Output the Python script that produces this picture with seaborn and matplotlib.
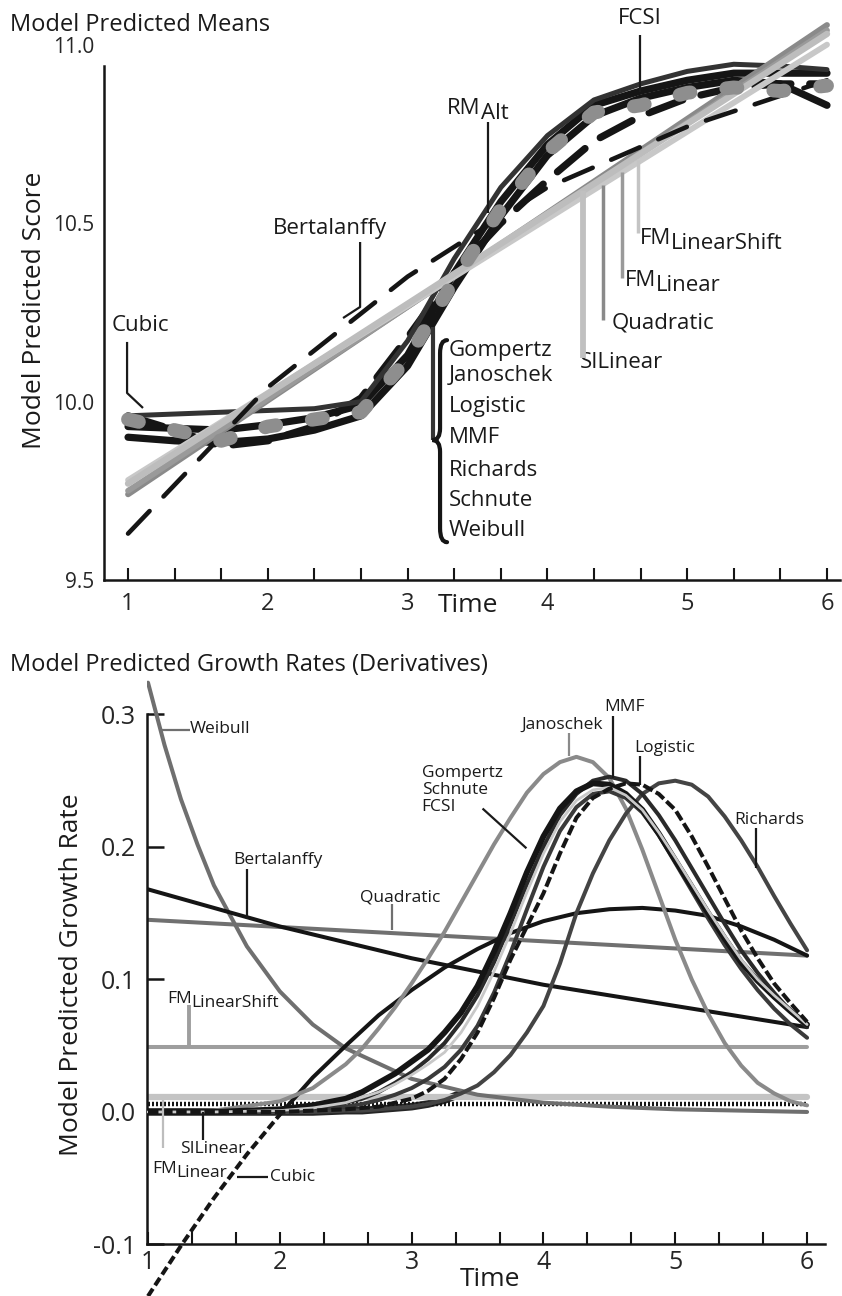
import matplotlib
matplotlib.use("Agg")
import matplotlib.pyplot as plt
import seaborn as sns
from matplotlib.path import Path
from matplotlib.patches import PathPatch

# ---------------- data: top panel (predicted means) ----------------
t_means = [1.0, 1.333, 1.667, 2.0, 2.333, 2.667, 3.0, 3.333, 3.667, 4.0, 4.333, 4.667, 5.0, 5.333, 5.667, 6.0]
rm_alt = [9.96, 9.965, 9.97, 9.975, 9.98, 10.00, 10.17, 10.40, 10.60, 10.745, 10.845, 10.89, 10.925, 10.945, 10.94, 10.93]
nonlin_a = [9.93, 9.925, 9.92, 9.935, 9.955, 9.99, 10.13, 10.36, 10.56, 10.72, 10.83, 10.87, 10.90, 10.92, 10.92, 10.92]
nonlin_b = [9.90, 9.89, 9.885, 9.895, 9.92, 9.96, 10.10, 10.32, 10.52, 10.69, 10.80, 10.85, 10.88, 10.90, 10.89, 10.83]
nonlin_dash = [9.96, 9.92, 9.875, 9.89, 9.93, 10.01, 10.18, 10.36, 10.50, 10.62, 10.73, 10.80, 10.85, 10.88, 10.89, 10.89]
fcsi_mean = [9.95, 9.92, 9.89, 9.93, 9.95, 9.97, 10.12, 10.34, 10.54, 10.70, 10.81, 10.83, 10.865, 10.88, 10.87, 10.885]

t_int = [1, 2, 3, 4, 5, 6]
bertalanffy_mean = [9.63, 10.04, 10.35, 10.60, 10.77, 10.90]

t_ends = [1, 6]
quadratic_mean = [9.74, 11.055]
fmlinear_mean = [9.75, 11.04]
silinear_mean = [9.77, 11.03]
fmshift_mean = [9.78, 11.00]

# ---------------- data: bottom panel (growth rates) ----------------
t_rate = [1.0, 1.25, 1.5, 1.75, 2.0, 2.25, 2.5, 2.75, 3.0, 3.25, 3.5, 3.75,
          4.0, 4.25, 4.5, 4.75, 5.0, 5.25, 5.5, 5.75, 6.0]
bertalanffy = [0.168, 0.161, 0.154, 0.147, 0.140, 0.134, 0.128, 0.122, 0.116, 0.111, 0.106, 0.101,
               0.096, 0.092, 0.088, 0.084, 0.080, 0.076, 0.072, 0.068, 0.064]
cubic = [-0.139, -0.101, -0.065, -0.032, -0.002, 0.026, 0.050, 0.073, 0.092, 0.109, 0.123, 0.135,
         0.144, 0.150, 0.153, 0.154, 0.152, 0.148, 0.140, 0.130, 0.118]

t_weibull = [1.0, 1.125, 1.25, 1.375, 1.5, 1.75, 2.0, 2.25, 2.5, 3.0, 3.5, 4.0, 4.5, 5.0, 5.5, 6.0]
weibull = [0.324, 0.277, 0.236, 0.202, 0.171, 0.125, 0.091, 0.066, 0.048, 0.025, 0.013, 0.007,
           0.004, 0.002, 0.001, 0.000]

# peaked curves: coarse at the start, 1/8 steps from 2.5 on
t_peak = [1.0, 1.5, 2.0, 2.25, 2.5, 2.625, 2.75, 2.875, 3.0, 3.125, 3.25, 3.375, 3.5, 3.625,
          3.75, 3.875, 4.0, 4.125, 4.25, 4.375, 4.5, 4.625, 4.75, 4.875, 5.0, 5.125, 5.25,
          5.375, 5.5, 5.625, 5.75, 5.875, 6.0]
janoschek = [0.0, 0.001, 0.008, 0.018, 0.036, 0.048, 0.063, 0.079, 0.097, 0.116, 0.136, 0.158,
             0.180, 0.202, 0.222, 0.241, 0.255, 0.264, 0.268, 0.264, 0.252, 0.229, 0.198, 0.164,
             0.130, 0.100, 0.074, 0.052, 0.035, 0.022, 0.014, 0.008, 0.005]
gompertz = [0.0, 0.0, 0.002, 0.005, 0.010, 0.015, 0.022, 0.029, 0.038, 0.047, 0.060, 0.075,
            0.095, 0.121, 0.150, 0.181, 0.208, 0.229, 0.242, 0.248, 0.247, 0.240, 0.228, 0.210,
            0.190, 0.170, 0.150, 0.131, 0.113, 0.099, 0.087, 0.076, 0.066]
fcsi = [0.0, 0.0, 0.001, 0.003, 0.007, 0.011, 0.015, 0.021, 0.028, 0.036, 0.045, 0.060,
        0.080, 0.106, 0.135, 0.166, 0.195, 0.219, 0.235, 0.243, 0.245, 0.239, 0.228, 0.211,
        0.192, 0.172, 0.152, 0.133, 0.115, 0.100, 0.088, 0.077, 0.066]
schnute = [0.0, 0.0, 0.001, 0.002, 0.004, 0.006, 0.009, 0.013, 0.018, 0.025, 0.034, 0.047,
           0.065, 0.090, 0.120, 0.153, 0.185, 0.212, 0.230, 0.240, 0.242, 0.237, 0.226, 0.209,
           0.188, 0.167, 0.146, 0.126, 0.108, 0.092, 0.078, 0.066, 0.056]
mmf = [0.0, 0.0, 0.001, 0.003, 0.007, 0.010, 0.015, 0.022, 0.030, 0.040, 0.052, 0.068,
       0.088, 0.113, 0.142, 0.172, 0.200, 0.224, 0.240, 0.250, 0.253, 0.250, 0.240, 0.224,
       0.205, 0.184, 0.163, 0.142, 0.122, 0.105, 0.090, 0.076, 0.064]
logistic = [0.0, 0.0, 0.0, 0.001, 0.002, 0.003, 0.004, 0.007, 0.010, 0.016, 0.025, 0.040,
            0.060, 0.086, 0.115, 0.140, 0.165, 0.195, 0.222, 0.237, 0.244, 0.248, 0.247, 0.240,
            0.228, 0.208, 0.185, 0.161, 0.137, 0.116, 0.097, 0.082, 0.068]
richards = [0.0, 0.0, 0.0, 0.0, 0.001, 0.001, 0.002, 0.003, 0.004, 0.006, 0.009, 0.014,
            0.020, 0.030, 0.043, 0.060, 0.080, 0.112, 0.150, 0.180, 0.205, 0.225, 0.240, 0.248,
            0.250, 0.247, 0.238, 0.223, 0.205, 0.185, 0.163, 0.142, 0.122]

t_flat = [1.0, 6.0]
quadratic = [0.145, 0.118]
fm_shift = [0.049, 0.049]
si_linear = [0.011, 0.011]
fm_linear = [0.006, 0.006]

time_ticks = [1, 2, 3, 4, 5, 6]

# ---------------- style ----------------
sns.set_theme(style="white")
plt.rcParams['font.family'] = ['Open Sans', 'DejaVu Sans']
plt.rcParams['text.color'] = '#1a1a1a'

W, H = 842, 1296
fig = plt.figure(figsize=(W / 100, H / 100), dpi=100)


def rect(l, t, r, b):
    return [l / W, 1 - b / H, (r - l) / W, (b - t) / H]


def line(ax, x, y, **kw):
    sns.lineplot(x=x, y=y, ax=ax, sort=False, estimator=None, errorbar=None, **kw)


def sub_label(ax, x, y, main, sub, size, color='#1a1a1a'):
    t = ax.text(x, y, main, fontsize=size, ha='left', va='center', color=color)
    ax.annotate(sub, xy=(1, 0.75), xycoords=t, fontsize=size, ha='left', va='top', color=color)


def leader(ax, xs, ys, color='#1a1a1a', lw=1.6):
    ax.plot(xs, ys, color=color, lw=lw, clip_on=False, solid_capstyle='butt', zorder=6)


BLACK = '#151515'

# ======================= top panel =======================
ax1 = fig.add_axes(rect(104, 20, 840, 580))
ax1.set_xlim(0.828, 6.093)
ax1.set_ylim(9.5, 11.069)

for vals in [nonlin_b, nonlin_a]:
    line(ax1, t_means, vals, color=BLACK, lw=5.2, solid_capstyle='round', solid_joinstyle='round', zorder=2)
line(ax1, t_means, nonlin_dash, color=BLACK, lw=5.2, linestyle=(0, (5, 2.6)),
     dash_capstyle='round', zorder=2)
line(ax1, t_means, rm_alt, color='#333333', lw=3.6, solid_capstyle='round', solid_joinstyle='round', zorder=2)

line(ax1, t_ends, quadratic_mean, color='#8a8a8a', lw=4.2, zorder=3)
line(ax1, t_ends, fmlinear_mean, color='#9a9a9a', lw=4.2, zorder=3)
line(ax1, t_ends, fmshift_mean, color='#c8c8c8', lw=4.2, zorder=3)
line(ax1, t_ends, silinear_mean, color='#bdbdbd', lw=4.6, zorder=3)

line(ax1, t_int, bertalanffy_mean, color=BLACK, lw=3.3, linestyle=(0, (6.8, 4.4)),
     dash_capstyle='round', zorder=4)
line(ax1, t_means, fcsi_mean, color='#8e8e8e', lw=10, linestyle=(0, (0.8, 2.6)),
     dash_capstyle='round', zorder=5)

ax1.set_xticks([1 + i / 3 for i in range(16)])
ax1.set_xticklabels([str(time_ticks[i // 3]) if i % 3 == 0 else '' for i in range(16)])
ax1.set_yticks([9.5, 10.0, 10.5, 11.0])
ax1.set_yticklabels(['9.5', '10.0', '10.5', '11.0'])
ax1.tick_params(axis='x', direction='in', length=9, width=1.5, color=BLACK, pad=9,
                bottom=True, labelsize=17)
ax1.tick_params(axis='y', length=0, pad=7, left=True, labelsize=15)
ax1.set_xlabel('')
ax1.set_ylabel('')
for s in ['top', 'right']:
    ax1.spines[s].set_visible(False)
for s in ['left', 'bottom']:
    ax1.spines[s].set_color(BLACK)
    ax1.spines[s].set_linewidth(1.8)
ax1.spines['left'].set_bounds(9.5, 10.94)

# top annotations
fs = 16
ax1.text(1.086, 10.214, 'Cubic', fontsize=fs, ha='center', va='center')
leader(ax1, [0.993, 0.993, 1.107], [10.167, 10.024, 9.982])
ax1.text(2.445, 10.486, 'Bertalanffy', fontsize=fs, ha='center', va='center')
leader(ax1, [2.66, 2.66, 2.538], [10.447, 10.265, 10.234])
sub_label(ax1, 3.282, 10.822, 'RM', 'Alt', fs)
leader(ax1, [3.575, 3.575], [10.783, 10.528])
ax1.text(4.662, 11.074, 'FCSI', fontsize=fs, ha='center', va='center')
leader(ax1, [4.662, 4.662], [11.027, 10.867])
sub_label(ax1, 4.662, 10.458, 'FM', 'LinearShift', fs)
leader(ax1, [4.648, 4.648], [10.676, 10.472], color='#c4c4c4', lw=2.5)
sub_label(ax1, 4.555, 10.34, 'FM', 'Linear', fs)
leader(ax1, [4.534, 4.534], [10.643, 10.346], color='#9a9a9a', lw=2.5)
ax1.text(4.462, 10.22, 'Quadratic', fontsize=fs, ha='left', va='center')
leader(ax1, [4.398, 4.398], [10.606, 10.228], color='#8a8a8a', lw=2.5)
ax1.text(4.233, 10.11, 'SILinear', fontsize=fs, ha='left', va='center')
leader(ax1, [4.255, 4.255], [10.59, 10.122], color='#c0c0c0', lw=4.2)

group = ['Gompertz', 'Janoschek', 'Logistic', 'MMF', 'Richards', 'Schnute', 'Weibull']
group_y = [10.144, 10.074, 9.985, 9.898, 9.808, 9.724, 9.64]
for name, gy in zip(group, group_y):
    ax1.text(3.296, gy, name, fontsize=fs, ha='left', va='center')
leader(ax1, [3.182, 3.182], [10.209, 9.892], color='#333333', lw=3)
brace = Path(
    [(3.282, 10.172), (3.232, 10.172), (3.232, 10.135), (3.232, 9.925),
     (3.232, 9.892), (3.178, 9.892), (3.232, 9.892), (3.232, 9.859),
     (3.232, 9.645), (3.232, 9.606), (3.282, 9.606)],
    [Path.MOVETO, Path.CURVE3, Path.CURVE3, Path.LINETO,
     Path.CURVE3, Path.CURVE3, Path.CURVE3, Path.CURVE3,
     Path.LINETO, Path.CURVE3, Path.CURVE3])
ax1.add_patch(PathPatch(brace, fill=False, lw=3, edgecolor=BLACK, capstyle='round', zorder=6))

# ======================= bottom panel =======================
ax2 = fig.add_axes(rect(147, 680, 825, 1296))
ax2.set_xlim(0.9924, 6.136)
ax2.set_ylim(-0.1389, 0.326)
for s in ['top', 'right']:
    ax2.spines[s].set_visible(False)
for s in ['left', 'bottom']:
    ax2.spines[s].set_color(BLACK)
    ax2.spines[s].set_linewidth(1.8)
ax2.spines['bottom'].set_position(('data', -0.1))
ax2.spines['left'].set_bounds(-0.1, 0.3)

lw = 2.9
line(ax2, t_flat, quadratic, color='#707070', lw=lw, zorder=2)
line(ax2, t_flat, fm_shift, color='#9e9e9e', lw=lw, zorder=2)
line(ax2, t_peak[:12], richards[:12], color='#262626', lw=5.5, solid_capstyle='round', zorder=2)
line(ax2, t_flat, si_linear, color='#c4c4c4', lw=4.5, zorder=2)
line(ax2, t_flat, fm_linear, color=BLACK, lw=3.2, linestyle=(0, (0.45, 0.45)), zorder=3)
line(ax2, t_weibull, weibull, color='#6f6f6f', lw=lw, zorder=3)
line(ax2, t_rate, bertalanffy, color=BLACK, lw=lw, zorder=3)
line(ax2, t_rate[:5], cubic[:5], color=BLACK, lw=lw, linestyle=(0, (2.2, 1.0)), zorder=3, clip_on=False)
line(ax2, t_rate[4:], cubic[4:], color=BLACK, lw=lw, zorder=3)
line(ax2, t_peak, janoschek, color='#8a8a8a', lw=lw, zorder=3)
line(ax2, t_peak, richards, color='#444444', lw=lw, zorder=3)
line(ax2, t_peak, schnute, color='#3a3a3a', lw=lw, zorder=3)
line(ax2, t_peak, mmf, color='#2a2a2a', lw=lw, zorder=3)
line(ax2, t_peak, gompertz, color=BLACK, lw=4.2, zorder=4)
line(ax2, t_peak, fcsi, color='#c8c8c8', lw=2.0, zorder=5)
line(ax2, t_peak, logistic, color=BLACK, lw=lw, linestyle=(0, (2.6, 0.9)), zorder=5)

ax2.set_xticks([1 + i / 3 for i in range(16)])
ax2.set_xticklabels([str(time_ticks[i // 3]) if i % 3 == 0 else '' for i in range(16)])
ax2.set_yticks([-0.1, 0.0, 0.1, 0.2, 0.3])
ax2.set_yticklabels(['-0.1', '0.0', '0.1', '0.2', '0.3'])
ax2.tick_params(axis='x', direction='in', length=9, width=1.5, color=BLACK, pad=4,
                bottom=True, labelsize=18)
ax2.tick_params(axis='y', direction='in', length=12, width=1.8, color=BLACK, pad=8,
                left=True, labelsize=18)
ax2.set_xlabel('')
ax2.set_ylabel('')

# bottom annotations
fs2 = 12.5
ax2.text(1.318, 0.289, 'Weibull', fontsize=fs2, ha='left', va='center')
leader(ax2, [1.106, 1.318], [0.288, 0.288], color='#6f6f6f')
ax2.text(1.985, 0.190, 'Bertalanffy', fontsize=fs2, ha='center', va='center')
leader(ax2, [1.75, 1.75], [0.183, 0.146])
ax2.text(2.91, 0.162, 'Quadratic', fontsize=fs2, ha='center', va='center')
leader(ax2, [2.848, 2.848], [0.157, 0.137], color='#707070')
sub_label(ax2, 1.144, 0.0855, 'FM', 'LinearShift', fs2)
leader(ax2, [1.31, 1.31], [0.081, 0.05], color='#9e9e9e', lw=2.8)
ax2.text(1.242, -0.028, 'SILinear', fontsize=fs2, ha='left', va='center')
leader(ax2, [1.417, 1.417], [0.0, -0.021])
sub_label(ax2, 1.03, -0.043, 'FM', 'Linear', fs2)
leader(ax2, [1.114, 1.114], [0.009, -0.027], color='#bdbdbd')
ax2.text(1.924, -0.049, 'Cubic', fontsize=fs2, ha='left', va='center')
leader(ax2, [1.674, 1.909], [-0.049, -0.049])
ax2.text(3.076, 0.243, 'Gompertz\nSchnute\nFCSI', fontsize=fs2, ha='left', va='center',
         linespacing=1.05)
leader(ax2, [3.538, 3.871], [0.229, 0.199])
ax2.text(4.144, 0.292, 'Janoschek', fontsize=fs2, ha='center', va='center')
leader(ax2, [4.197, 4.197], [0.286, 0.269], color='#8a8a8a')
ax2.text(4.614, 0.306, 'MMF', fontsize=fs2, ha='center', va='center')
leader(ax2, [4.53, 4.53], [0.299, 0.252])
ax2.text(4.917, 0.275, 'Logistic', fontsize=fs2, ha='center', va='center')
leader(ax2, [4.735, 4.735], [0.269, 0.247])
ax2.text(5.712, 0.220, 'Richards', fontsize=fs2, ha='center', va='center')
leader(ax2, [5.614, 5.614], [0.214, 0.184])

# ---------------- titles and axis labels ----------------
fig.text(10 / W, 1 - 25 / H, 'Model Predicted Means', fontsize=17, ha='left', va='center')
fig.text(10 / W, 1 - 665 / H, 'Model Predicted Growth Rates (Derivatives)', fontsize=17,
         ha='left', va='center')
fig.text(35 / W, 1 - 310 / H, 'Model Predicted Score', fontsize=19, rotation=90,
         ha='center', va='center')
fig.text(72 / W, 1 - 975 / H, 'Model Predicted Growth Rate', fontsize=19, rotation=90,
         ha='center', va='center')
fig.text(468 / W, 1 - 605 / H, 'Time', fontsize=19, ha='center', va='center')
fig.text(490 / W, 1 - 1280 / H, 'Time', fontsize=19, ha='center', va='center')

fig.savefig('out.png', dpi=100)
